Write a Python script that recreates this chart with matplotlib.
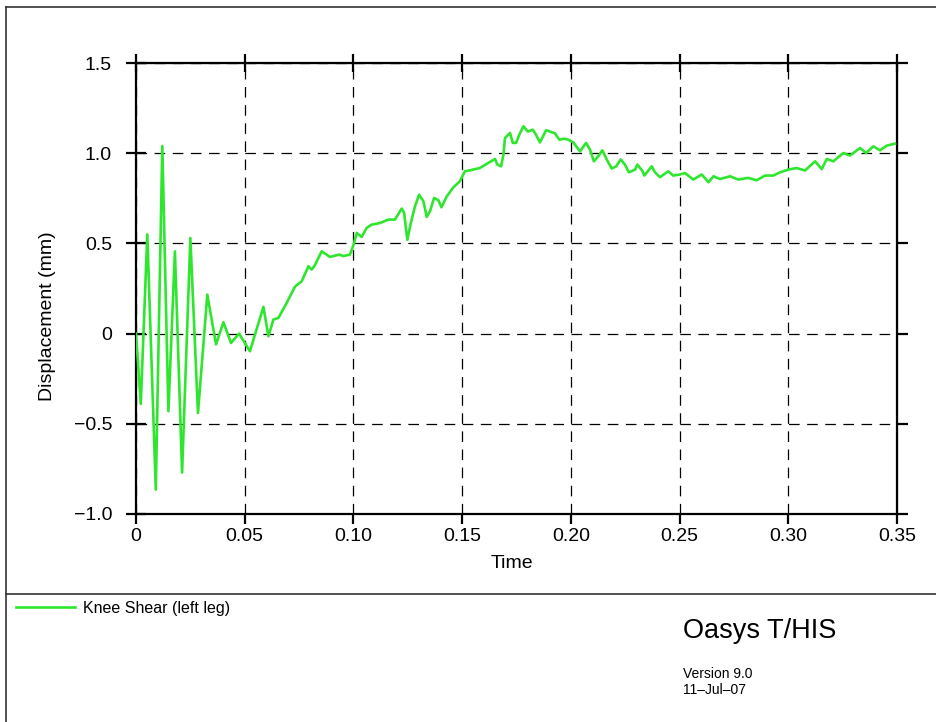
import matplotlib.pyplot as plt
from matplotlib.lines import Line2D

# curve (time, displacement in mm)
time = [
    0.0000, 0.0022, 0.0052, 0.0091, 0.0121, 0.0149, 0.0179, 0.0212, 0.0250, 0.0285,
    0.0328, 0.0368, 0.0402, 0.0437, 0.0474, 0.0524, 0.0586, 0.0609, 0.0632, 0.0655,
    0.0693, 0.0731, 0.0762, 0.0793, 0.0808, 0.0823, 0.0854, 0.0892, 0.0935, 0.0954,
    0.0984, 0.1000, 0.1015, 0.1038, 0.1061, 0.1084, 0.1122, 0.1160, 0.1191, 0.1222,
    0.1233, 0.1248, 0.1264, 0.1283, 0.1302, 0.1322, 0.1337, 0.1352, 0.1371, 0.1391,
    0.1405, 0.1429, 0.1459, 0.1490, 0.1513, 0.1536, 0.1582, 0.1620, 0.1651, 0.1662,
    0.1679, 0.1690, 0.1697, 0.1720, 0.1733, 0.1748, 0.1763, 0.1782, 0.1802, 0.1825,
    0.1835, 0.1858, 0.1886, 0.1904, 0.1927, 0.1947, 0.1969, 0.1988, 0.2011, 0.2042,
    0.2070, 0.2088, 0.2106, 0.2126, 0.2145, 0.2165, 0.2188, 0.2208, 0.2229, 0.2249,
    0.2267, 0.2295, 0.2306, 0.2330, 0.2338, 0.2372, 0.2387, 0.2410, 0.2448, 0.2471,
    0.2502, 0.2525, 0.2563, 0.2602, 0.2633, 0.2656, 0.2686, 0.2732, 0.2770, 0.2816,
    0.2855, 0.2893, 0.2931, 0.2962, 0.3000, 0.3038, 0.3077, 0.3123, 0.3154, 0.3177,
    0.3207, 0.3253, 0.3284, 0.3330, 0.3358, 0.3391, 0.3422, 0.3453, 0.3491,
]
disp = [
    0.000, -0.390, 0.550, -0.865, 1.040, -0.430, 0.456, -0.770, 0.530, -0.440,
    0.216, -0.060, 0.063, -0.052, 0.000, -0.098, 0.148, -0.015, 0.078, 0.087,
    0.170, 0.260, 0.290, 0.373, 0.355, 0.380, 0.456, 0.425, 0.438, 0.430,
    0.438, 0.490, 0.558, 0.536, 0.586, 0.604, 0.613, 0.632, 0.632, 0.693,
    0.670, 0.520, 0.613, 0.705, 0.770, 0.733, 0.647, 0.678, 0.752, 0.739,
    0.700, 0.760, 0.810, 0.845, 0.900, 0.905, 0.918, 0.946, 0.968, 0.937,
    0.927, 0.992, 1.084, 1.112, 1.057, 1.057, 1.103, 1.149, 1.120, 1.130,
    1.112, 1.060, 1.127, 1.120, 1.110, 1.075, 1.080, 1.075, 1.060, 1.010,
    1.057, 1.020, 0.955, 0.983, 1.016, 0.965, 0.915, 0.927, 0.965, 0.937,
    0.894, 0.909, 0.937, 0.900, 0.876, 0.927, 0.894, 0.867, 0.900, 0.876,
    0.882, 0.890, 0.854, 0.882, 0.839, 0.872, 0.857, 0.872, 0.854, 0.863,
    0.850, 0.876, 0.876, 0.894, 0.909, 0.918, 0.904, 0.955, 0.912, 0.968,
    0.955, 1.001, 0.987, 1.029, 1.001, 1.038, 1.016, 1.042, 1.053,
]

x_ticks = [0, 0.05, 0.10, 0.15, 0.20, 0.25, 0.30, 0.35]
x_labels = ['0', '0.05', '0.10', '0.15', '0.20', '0.25', '0.30', '0.35']
y_ticks = [-1.0, -0.5, 0, 0.5, 1.0, 1.5]
y_labels = ['\u22121.0', '\u22120.5', '0', '0.5', '1.0', '1.5']

series_name = 'Knee Shear (left leg)'
green = '#2ee62e'

plt.rcParams['font.family'] = ['Liberation Sans', 'DejaVu Sans']

W, H = 936, 722
fig = plt.figure(figsize=(W / 100, H / 100), dpi=100)
ax = fig.add_axes([136 / W, 1 - 514 / H, (897 - 136) / W, (514 - 63) / H])

line, = ax.plot(time, disp, color=green, lw=1.9, zorder=3)

ax.set_xlim(0, 0.35)
ax.set_ylim(-1.0, 1.5)
ax.set_xticks(x_ticks, x_labels)
ax.set_yticks(y_ticks, y_labels)
ax.grid(True, color='black', lw=0.9, linestyle=(0, (8.5, 6)))

for s in ax.spines.values():
    s.set_linewidth(1.6)
ax.tick_params(axis='x', direction='out', length=7, width=1.6, pad=3, labelsize=14)
ax.tick_params(axis='y', direction='inout', length=14.5, width=1.6, pad=10, labelsize=14)

# top and right ticks point differently than bottom/left
top = ax.secondary_xaxis('top')
top.set_xticks(x_ticks)
top.tick_params(direction='inout', length=13, width=1.6, labeltop=False)
right = ax.secondary_yaxis('right')
right.set_yticks(y_ticks)
right.tick_params(direction='out', length=8, width=1.6, labelright=False)

fig.text(512 / W, 1 - 563 / H, 'Time', ha='center', va='center', fontsize=14)
fig.text(48 / W, 1 - 316 / H, 'Displacement (mm)', ha='center', va='center',
         rotation=90, fontsize=14)

# page frame and footer separator
fig.add_artist(Line2D([6 / W, 6 / W], [0, 1 - 7 / H], color='#333333', lw=1.2))
fig.add_artist(Line2D([6 / W, 1], [1 - 7 / H, 1 - 7 / H], color='#333333', lw=1.2))
fig.add_artist(Line2D([6 / W, 1], [1 - 594 / H, 1 - 594 / H], color='#333333', lw=1.2))

fig.legend([line], [series_name], loc='center left',
           bbox_to_anchor=(8 / W, 1 - 608 / H), frameon=False,
           handlelength=3.7, handletextpad=0.5, borderpad=0,
           prop={'size': 11.5})

fig.text(683 / W, 1 - 631 / H, 'Oasys T/HIS', ha='left', va='center', fontsize=19.5)
fig.text(683 / W, 1 - 674 / H, 'Version 9.0', ha='left', va='center', fontsize=10)
fig.text(683 / W, 1 - 690 / H, '11\u2013Jul\u201307', ha='left', va='center', fontsize=10)

fig.savefig('out.png', dpi=100)
